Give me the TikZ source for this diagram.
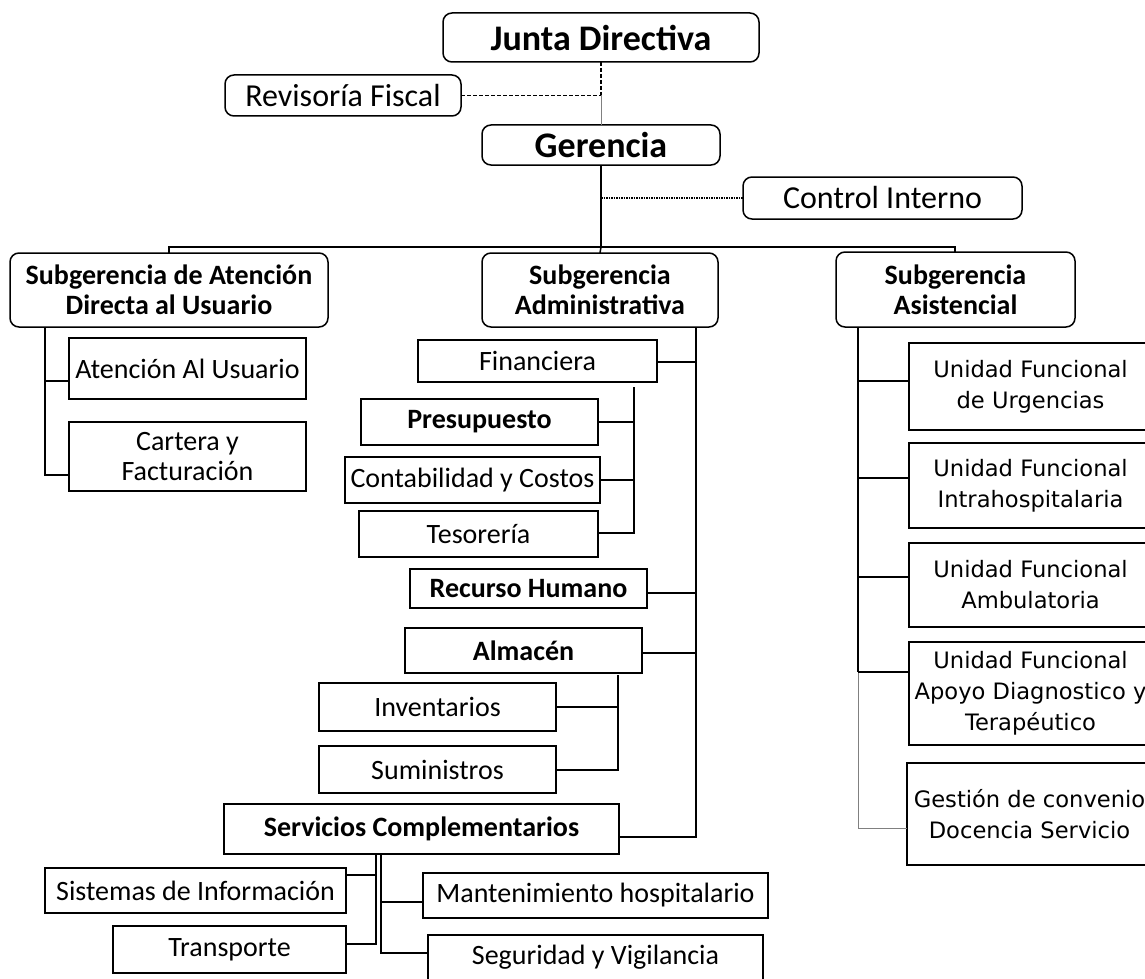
\documentclass[tikz,border=0pt]{standalone}
\usepackage{fontspec}
\setmainfont{Carlito}
\newfontfamily\vfont{DejaVu Sans}
\newcommand{\obox}[7]{%
  \node[#2, minimum width={#4-#3}, minimum height={#6-#5}] (#1) at ({(#3+#4)/2},{(#5+#6)/2}) {#7};}
\tikzset{
  rbox/.style={draw, line width=1.5pt, rounded corners=9pt, inner sep=0pt, outer sep=0pt, align=center},
  sbox/.style={draw, line width=1.5pt, inner sep=0pt, outer sep=0pt, align=center},
  conn/.style={line width=1.5pt},
  thinl/.style={line width=1pt, draw=gray},
  dsh/.style={line width=1.2pt, dash pattern=on 4pt off 2pt},
  dtt/.style={line width=1.2pt, dash pattern=on 1.5pt off 1pt},
  tb/.style={font=\fontsize{36}{40}\selectfont\bfseries},
  tm/.style={font=\fontsize{32}{36}\selectfont},
  sb/.style={font=\fontsize{28}{30}\selectfont\bfseries},
  sr/.style={font=\fontsize{28}{30}\selectfont},
  srb/.style={font=\fontsize{28}{30}\selectfont\bfseries},
  vr/.style={font=\vfont\fontsize{22.6}{31}\selectfont},
}
\begin{document}
\begin{tikzpicture}[x=1pt,y=-1pt]
\fill[white] (0,0) rectangle (1145,979);
\useasboundingbox (0,0) rectangle (1145,979);
% top
\obox{jd}{rbox,tb}{443}{759}{13}{62}{Junta Directiva}
\obox{rf}{rbox,tm}{225}{461}{75}{116}{Revisoría Fiscal}
\obox{ger}{rbox,tb}{482}{720}{125}{165}{Gerencia}
\obox{ci}{rbox,tm}{743}{1022}{177}{219}{Control Interno}
% subgerencias
\obox{sa}{rbox,sb}{10}{328}{253}{327}{Subgerencia de Atención\\Directa al Usuario}
\obox{sadm}{rbox,sb}{482}{718}{253}{327}{Subgerencia\\Administrativa}
\obox{sas}{rbox,sb}{836}{1075}{252}{327}{Subgerencia\\Asistencial}
% left
\obox{au}{sbox,sr}{69}{306}{338}{399}{Atención Al Usuario}
\obox{cf}{sbox,sr}{69}{306}{422}{491}{Cartera y\\Facturación}
% middle
\obox{fin}{sbox,sr}{418}{657}{340}{382}{Financiera}
\obox{pre}{sbox,srb}{361}{598}{399}{445}{Presupuesto}
\obox{con}{sbox,sr}{345}{600}{457}{503}{Contabilidad y Costos}
\obox{tes}{sbox,sr}{359}{598}{511}{557}{Tesorería}
\obox{rh}{sbox,srb}{410}{647}{569}{608}{Recurso Humano}
\obox{alm}{sbox,srb}{405}{642}{628}{673}{Almacén}
\obox{inv}{sbox,sr}{319}{556}{683}{731}{Inventarios}
\obox{sum}{sbox,sr}{319}{556}{746}{793}{Suministros}
\obox{sc}{sbox,srb}{224}{619}{804}{854}{Servicios Complementarios}
\obox{si}{sbox,sr}{45}{346}{868}{913}{Sistemas de Información}
\obox{tr}{sbox,sr}{113}{346}{926}{973}{Transporte}
\obox{mh}{sbox,sr}{423}{768}{873}{918}{Mantenimiento hospitalario}
\obox{sv}{sbox,sr}{428}{763}{935}{980}{Seguridad y Vigilancia}
% right
\obox{uu}{sbox,vr}{909}{1152}{343}{430}{Unidad Funcional\\de Urgencias}
\obox{ui}{sbox,vr}{909}{1152}{443}{528}{Unidad Funcional\\Intrahospitalaria}
\obox{ua}{sbox,vr}{909}{1152}{543}{627}{Unidad Funcional\\Ambulatoria}
\obox{uad}{sbox,vr}{909}{1152}{642}{745}{Unidad Funcional\\Apoyo Diagnostico y\\Terapéutico}
\obox{gc}{sbox,vr}{907}{1152}{763}{865}{Gestión de convenio\\Docencia Servicio}
% top connectors
\coordinate (jr) at (jd.south |- rf.east);
\draw[dsh] (jd.south) -- (jr);
\draw[dsh] (rf.east) -- (jr);
\draw[thinl] (jr) -- (ger.north);
\coordinate (jc) at (ger.south |- ci.west);
\draw[dtt] (jc) -- (ci.west);
\coordinate (bm) at (ger.south |- 0,247);
\coordinate (bl) at (sa.north |- 0,247);
\coordinate (br) at (955,247);
\draw[conn] (ger.south) -- (bm);
\draw[conn] (sa.north) -- (bl) -- (br) -- (br |- sas.north);
\draw[conn] (bm) -- (sadm.north);
% left connectors
\coordinate (lt) at (sa.south -| 45,0);
\draw[conn] (lt) |- (cf.west |- 0,475);
\draw[conn] (lt |- 0,381) -- (au.west |- 0,381);
% middle connectors
\coordinate (mt) at (sadm.south -| 696,0);
\draw[conn] (mt) |- (sc.east |- 0,837);
\draw[conn] (fin.east |- 0,362) -- (mt |- 0,362);
\draw[conn] (rh.east |- 0,593) -- (mt |- 0,593);
\draw[conn] (alm.east |- 0,653) -- (mt |- 0,653);
\coordinate (ft) at (634,387);
\draw[conn] (ft) |- (tes.east |- 0,533);
\draw[conn] (pre.east |- 0,422) -- (ft |- 0,422);
\draw[conn] (con.east |- 0,480) -- (ft |- 0,480);
\coordinate (at) at (618,675);
\draw[conn] (at) |- (sum.east |- 0,770);
\draw[conn] (inv.east |- 0,707) -- (at |- 0,707);
\coordinate (sl) at (sc.south -| 376,0);
\coordinate (sr) at (sc.south -| 381,0);
\draw[conn] (sl) |- (tr.east |- 0,944);
\draw[conn] (si.east |- 0,875) -- (sl |- 0,875);
\draw[conn] (sr) |- (sv.west |- 0,953);
\draw[conn] (sr |- 0,902) -- (mh.west |- 0,902);
% right connectors
\coordinate (rt) at (sas.south -| 858,0);
\draw[conn] (rt) -- (rt |- 0,672);
\draw[thinl] (rt |- 0,672) |- (gc.west |- 0,828);
\draw[conn] (rt |- 0,381) -- (uu.west |- 0,381);
\draw[conn] (rt |- 0,478) -- (ui.west |- 0,478);
\draw[conn] (rt |- 0,577) -- (ua.west |- 0,577);
\draw[conn] (rt |- 0,672) -- (uad.west |- 0,672);
\end{tikzpicture}
\end{document}
